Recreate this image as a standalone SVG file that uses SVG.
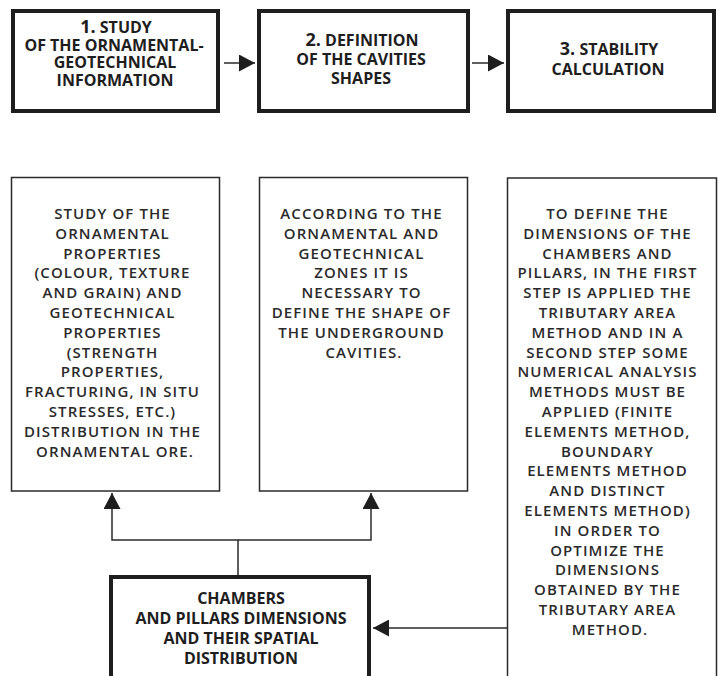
<svg xmlns="http://www.w3.org/2000/svg" width="719" height="676" viewBox="0 0 719 676">
<style>
.thick{fill:#fff;stroke:#1e1e1e;stroke-width:4}
.thin{fill:#fff;stroke:#2a2a2a;stroke-width:1.5}
.conn{fill:none;stroke:#2a2a2a;stroke-width:1.5}
.hd{font-family:"Open Sans","DejaVu Sans",sans-serif;font-weight:bold;font-size:16px;fill:#1e1e1e;text-anchor:middle}
.num{font-size:18px}
.bd{font-family:"Open Sans","DejaVu Sans",sans-serif;font-weight:600;font-size:15px;letter-spacing:1.1px;fill:#2a2a2a;text-anchor:middle}
</style>
<defs>
<marker id="ah" markerUnits="userSpaceOnUse" markerWidth="16" markerHeight="17" refX="16" refY="8.5" orient="auto" viewBox="0 0 16 17">
<path d="M0,0 L16,8.5 L0,17 z" fill="#1e1e1e"/>
</marker>
</defs>
<g id="step1">
<rect class="thick" x="13" y="11" width="205" height="100"/>
<text class="hd" x="116" y="33"><tspan class="num">1.</tspan> STUDY</text>
<text class="hd" x="114" y="50.5">OF THE ORNAMENTAL-</text>
<text class="hd" x="115" y="68">GEOTECHNICAL</text>
<text class="hd" x="115" y="86">INFORMATION</text>
</g>
<g id="step2">
<rect class="thick" x="259" y="11" width="209" height="100"/>
<text class="hd" x="362" y="46"><tspan class="num">2.</tspan> DEFINITION</text>
<text class="hd" x="361" y="64.5">OF THE CAVITIES</text>
<text class="hd" x="361" y="84">SHAPES</text>
</g>
<g id="step3">
<rect class="thick" x="508" y="11" width="206" height="100"/>
<text class="hd" x="609" y="55"><tspan class="num">3.</tspan> STABILITY</text>
<text class="hd" x="608" y="75">CALCULATION</text>
</g>
<g id="desc1">
<rect class="thin" x="11.5" y="177.5" width="208" height="313.5"/>
<text class="bd" x="115">
<tspan x="115" y="219">STUDY OF THE</tspan>
<tspan x="115" y="238.8">ORNAMENTAL</tspan>
<tspan x="115" y="258.6">PROPERTIES</tspan>
<tspan x="115" y="278.4">(COLOUR, TEXTURE</tspan>
<tspan x="115" y="298.2">AND GRAIN) AND</tspan>
<tspan x="115" y="318">GEOTECHNICAL</tspan>
<tspan x="115" y="337.8">PROPERTIES</tspan>
<tspan x="115" y="357.6">(STRENGTH</tspan>
<tspan x="115" y="377.4">PROPERTIES,</tspan>
<tspan x="115" y="397.2">FRACTURING, IN SITU</tspan>
<tspan x="115" y="417">STRESSES, ETC.)</tspan>
<tspan x="115" y="436.8">DISTRIBUTION IN THE</tspan>
<tspan x="115" y="456.6">ORNAMENTAL ORE.</tspan>
</text>
</g>
<g id="desc2">
<rect class="thin" x="259.5" y="177.5" width="208" height="313.5"/>
<text class="bd" x="364">
<tspan x="364" y="219">ACCORDING TO THE</tspan>
<tspan x="364" y="238.8">ORNAMENTAL AND</tspan>
<tspan x="364" y="258.6">GEOTECHNICAL</tspan>
<tspan x="364" y="278.4">ZONES IT IS</tspan>
<tspan x="364" y="298.2">NECESSARY TO</tspan>
<tspan x="364" y="318">DEFINE THE SHAPE OF</tspan>
<tspan x="364" y="337.8">THE UNDERGROUND</tspan>
<tspan x="364" y="357.6">CAVITIES.</tspan>
</text>
</g>
<g id="desc3">
<rect class="thin" x="507.5" y="178" width="209" height="540"/>
<text class="bd" x="610">
<tspan x="610" y="219">TO DEFINE THE</tspan>
<tspan x="610" y="238.8">DIMENSIONS OF THE</tspan>
<tspan x="610" y="258.6">CHAMBERS AND</tspan>
<tspan x="610" y="278.4">PILLARS, IN THE FIRST</tspan>
<tspan x="610" y="298.2">STEP IS APPLIED THE</tspan>
<tspan x="610" y="318">TRIBUTARY AREA</tspan>
<tspan x="610" y="337.8">METHOD AND IN A</tspan>
<tspan x="610" y="357.6">SECOND STEP SOME</tspan>
<tspan x="610" y="377.4">NUMERICAL ANALYSIS</tspan>
<tspan x="610" y="397.2">METHODS MUST BE</tspan>
<tspan x="610" y="417">APPLIED (FINITE</tspan>
<tspan x="610" y="436.8">ELEMENTS METHOD,</tspan>
<tspan x="610" y="456.6">BOUNDARY</tspan>
<tspan x="610" y="476.4">ELEMENTS METHOD</tspan>
<tspan x="610" y="496.2">AND DISTINCT</tspan>
<tspan x="610" y="516">ELEMENTS METHOD)</tspan>
<tspan x="610" y="535.8">IN ORDER TO</tspan>
<tspan x="610" y="555.6">OPTIMIZE THE</tspan>
<tspan x="610" y="575.4">DIMENSIONS</tspan>
<tspan x="610" y="595.2">OBTAINED BY THE</tspan>
<tspan x="610" y="615">TRIBUTARY AREA</tspan>
<tspan x="610" y="634.8">METHOD.</tspan>
</text>
</g>
<g id="result">
<rect class="thick" x="111" y="577" width="258" height="140"/>
<text class="hd" x="241" y="604">CHAMBERS</text>
<text class="hd" x="241" y="624">AND PILLARS DIMENSIONS</text>
<text class="hd" x="241" y="644">AND THEIR SPATIAL</text>
<text class="hd" x="241" y="663.5">DISTRIBUTION</text>
</g>
<g id="connectors">
<path class="conn" d="M224,63 H255" marker-end="url(#ah)"/>
<path class="conn" d="M472,63 H504" marker-end="url(#ah)"/>
<path class="conn" d="M238,575 V540 H112 V493" marker-end="url(#ah)"/>
<path class="conn" d="M238,540 H371 V493" marker-end="url(#ah)"/>
<path class="conn" d="M507,628 H373" marker-end="url(#ah)"/>
</g>
</svg>
